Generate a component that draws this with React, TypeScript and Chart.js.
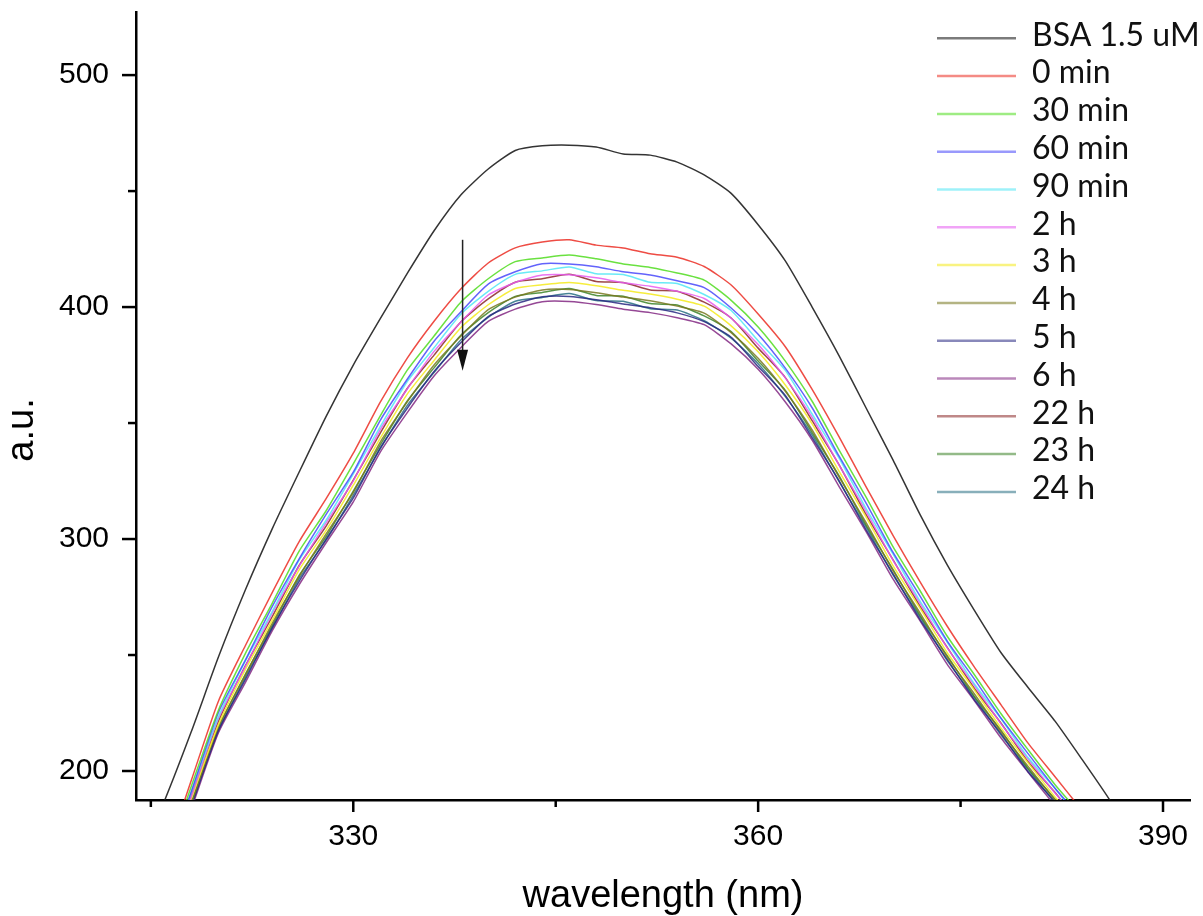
import React, { useEffect, useRef } from 'react';
import { Chart, registerables } from 'chart.js';

Chart.register(...registerables);

// ---- data ----
const wavelengths = [314, 316, 318, 320, 322, 324, 326, 328, 330, 332, 334, 336, 338, 340, 342, 344, 346, 348, 350, 352, 354, 356, 358, 360, 362, 364, 366, 368, 370, 372, 374, 376, 378, 380, 382, 384, 386, 388, 390, 392];

const bsa = [160, 187, 217, 249, 278, 304.5, 329, 353, 375, 395, 414.5, 433, 448.5, 459.5, 467.5, 469.5, 469.8, 469, 466, 465.5, 462.5, 457, 449, 435.5, 420, 400, 379, 356.5, 334, 310.5, 289, 269.5, 251, 236, 221.5, 205, 188, 170, 152, 134];
const min0 = [136, 162, 196, 230, 254, 277, 299, 317.5, 337, 359, 378, 394, 408, 419, 425.5, 428, 429, 426.7, 425.5, 423, 421.5, 417.5, 409.5, 397, 383, 364.5, 344, 322.5, 301.5, 281.5, 262.5, 245, 228.5, 212, 197.5, 183, 168, 154, 140, 126];
const min30 = [134, 159.8, 193.4, 226.1, 250.6, 272.4, 294.9, 312.3, 332.4, 353.1, 372.8, 387.6, 402.3, 412.2, 419.6, 421.2, 422.4, 420.8, 418.6, 417.1, 414.7, 411.6, 402.9, 391.4, 376.8, 359.4, 338.3, 318.1, 296.6, 277.7, 258.2, 241.7, 224.7, 209.2, 194.1, 180.6, 165.2, 151.9, 137.6, 124.3];
const min60 = [132.6, 158.7, 191.2, 225.1, 247.8, 271.0, 291.6, 310.7, 328.8, 351.2, 368.9, 385.4, 398.1, 409.9, 415.2, 418.7, 418.6, 417.4, 415.2, 413.8, 411.3, 408.4, 399.6, 388.3, 373.8, 356.6, 335.7, 315.5, 294.2, 275.4, 256.1, 239.8, 222.8, 207.5, 192.6, 179.1, 163.8, 150.8, 136.5, 123.4];
const min90 = [132.5, 157.2, 190.9, 223.2, 247.3, 268.8, 291.0, 308.2, 328.1, 348.5, 367.9, 382.6, 397.1, 406.8, 414.1, 415.6, 417.3, 414.4, 414.0, 410.7, 410.2, 405.4, 398.5, 385.5, 372.8, 353.9, 334.9, 313.1, 293.5, 273.2, 255.6, 237.7, 222.5, 205.8, 192.4, 177.6, 163.6, 149.4, 136.3, 122.2];
const h2 = [131.1, 156.8, 189.0, 222.6, 245.0, 268.0, 288.4, 307.1, 325.1, 347.2, 364.7, 381.0, 393.7, 405.2, 410.6, 413.8, 413.9, 412.6, 410.5, 409.0, 406.8, 403.7, 395.2, 383.9, 369.6, 352.5, 331.9, 311.9, 290.8, 272.3, 253.2, 237.1, 220.3, 205.2, 190.5, 177.1, 162.0, 149.1, 134.9, 121.9];
const h3 = [130.6, 154.9, 188.1, 219.9, 243.7, 265.0, 286.8, 303.8, 323.2, 343.5, 362.5, 377.1, 391.3, 401.0, 408.0, 409.6, 410.6, 409.2, 407.2, 405.6, 403.4, 400.4, 391.9, 380.7, 366.5, 349.6, 329.2, 309.4, 288.4, 270.1, 251.1, 235.1, 218.5, 203.5, 188.8, 175.6, 160.6, 147.8, 133.8, 121.0];
const h4 = [129.0, 154.4, 186.1, 219.0, 241.2, 263.8, 283.9, 302.3, 320.1, 341.8, 359.1, 375.1, 387.6, 398.9, 404.3, 407.4, 407.6, 406.2, 404.3, 402.7, 400.4, 397.4, 389.0, 377.9, 363.8, 347.0, 326.7, 307.1, 286.3, 268.1, 249.2, 233.4, 216.9, 202.0, 187.4, 174.3, 159.5, 146.8, 132.8, 120.1];
const h5 = [128.1, 153.2, 184.7, 217.5, 239.4, 261.9, 281.9, 300.1, 317.7, 339.3, 356.4, 372.3, 384.8, 395.9, 401.3, 404.4, 404.6, 403.2, 401.3, 399.7, 397.5, 393.7, 387.0, 374.4, 362.0, 343.7, 325.1, 304.0, 285.0, 265.3, 248.2, 230.9, 216.1, 199.7, 186.8, 172.5, 158.9, 145.1, 132.5, 118.6];
const h6 = [127.4, 152.4, 183.7, 216.4, 238.1, 260.5, 280.4, 298.5, 316.0, 337.5, 354.5, 370.4, 382.7, 393.8, 399.1, 402.3, 402.4, 401.1, 399.1, 397.6, 395.4, 392.4, 384.1, 373.2, 359.2, 342.7, 322.6, 303.2, 282.7, 264.7, 246.1, 230.5, 214.2, 199.5, 185.1, 172.1, 157.5, 144.9, 131.2, 118.6];
const h22 = [131.4, 155.9, 189.3, 221.3, 245.3, 266.6, 288.7, 305.7, 325.4, 345.7, 364.9, 379.4, 393.8, 403.5, 410.7, 412.2, 414.1, 411.0, 410.6, 407.4, 406.8, 402.1, 395.3, 382.3, 369.7, 351.0, 332.0, 310.5, 291.0, 271.0, 253.4, 235.8, 220.6, 204.0, 190.7, 176.1, 162.3, 148.2, 135.3, 121.2];
const h23 = [129.5, 153.6, 186.5, 218.2, 241.7, 262.8, 284.4, 301.2, 320.6, 340.6, 359.5, 373.9, 388.1, 397.6, 404.6, 406.3, 408.0, 405.0, 404.7, 401.5, 400.9, 396.2, 389.4, 376.7, 364.2, 345.9, 327.2, 306.0, 286.8, 267.0, 249.8, 232.3, 217.5, 201.1, 187.9, 173.5, 159.9, 146.0, 133.3, 119.5];
const h24 = [128.8, 152.8, 185.5, 216.9, 240.4, 261.4, 283.0, 299.6, 318.9, 338.9, 357.6, 371.9, 386.0, 395.6, 402.5, 404.1, 405.8, 402.8, 402.5, 399.3, 398.7, 394.1, 386.6, 375.6, 361.5, 344.9, 324.7, 305.2, 284.5, 266.4, 247.7, 231.9, 215.5, 200.7, 186.2, 173.3, 158.5, 145.9, 132.0, 119.4];

const seriesLabels = ['BSA 1.5 uM', '0 min', '30 min', '60 min', '90 min', '2 h', '3 h', '4 h', '5 h', '6 h', '22 h', '23 h', '24 h'];
const seriesColors = [
  'rgba(30,30,30,0.9)',
  'rgba(235,45,35,0.85)',
  'rgba(80,220,30,0.85)',
  'rgba(60,60,250,0.8)',
  'rgba(80,230,245,0.85)',
  'rgba(230,90,240,0.85)',
  'rgba(245,235,40,0.9)',
  'rgba(120,120,30,0.85)',
  'rgba(40,40,130,0.85)',
  'rgba(130,40,130,0.85)',
  'rgba(140,40,40,0.85)',
  'rgba(60,130,40,0.85)',
  'rgba(40,110,130,0.85)',
];

const xMajorTicks = [330, 360, 390];
const xMinorTicks = [315, 345, 375];
const yMajorTicks = [200, 300, 400, 500];
const yMinorTicks = [250, 350, 450];

const yTitle = 'a.u.';
const xTitle = 'wavelength (nm)';

const arrowX = 338.1;
const arrowFrom = 429;
const arrowTo = 372.5;

const AXIS_FONT = "'Liberation Sans', Arial, sans-serif";

export default function App() {
  const ref = useRef<HTMLCanvasElement>(null);

  useEffect(() => {
    if (!ref.current) return;
    const seriesValues = [bsa, min0, min30, min60, min90, h2, h3, h4, h5, h6, h22, h23, h24];
    const datasets = seriesLabels.map((label, i) => ({
      label,
      data: wavelengths.map((w, j) => ({ x: w, y: seriesValues[i][j] })),
      borderColor: seriesColors[i],
      backgroundColor: seriesColors[i],
      borderWidth: 1.5,
      pointRadius: 0,
      tension: 0.2,
      fill: false,
    }));

    const ticksPlugin = {
      id: 'customTicks',
      afterDraw(chart: any) {
        const { ctx, scales, chartArea } = chart;
        const x = scales.x;
        const y = scales.y;
        ctx.save();
        ctx.strokeStyle = '#000';
        ctx.lineWidth = 2.5;
        const seg = (x1: number, y1: number, x2: number, y2: number) => {
          ctx.beginPath();
          ctx.moveTo(x1, y1);
          ctx.lineTo(x2, y2);
          ctx.stroke();
        };
        xMajorTicks.forEach((v) => { const p = x.getPixelForValue(v); seg(p, chartArea.bottom, p, chartArea.bottom + 12); });
        xMinorTicks.forEach((v) => { const p = x.getPixelForValue(v); seg(p, chartArea.bottom, p, chartArea.bottom + 7); });
        yMajorTicks.forEach((v) => { const p = y.getPixelForValue(v); seg(chartArea.left, p, chartArea.left - 14, p); });
        yMinorTicks.forEach((v) => { const p = y.getPixelForValue(v); seg(chartArea.left, p, chartArea.left - 8, p); });
        // rotated y-axis title
        ctx.translate(23, 430);
        ctx.rotate(-Math.PI / 2);
        ctx.fillStyle = '#000';
        ctx.font = `38px ${AXIS_FONT}`;
        ctx.textAlign = 'center';
        ctx.textBaseline = 'middle';
        ctx.fillText(yTitle, 0, 0);
        ctx.restore();
      },
    };

    const arrowPlugin = {
      id: 'arrow',
      afterDatasetsDraw(chart: any) {
        const { ctx, scales } = chart;
        const px = scales.x.getPixelForValue(arrowX);
        const y1 = scales.y.getPixelForValue(arrowFrom);
        const y2 = scales.y.getPixelForValue(arrowTo);
        ctx.save();
        ctx.strokeStyle = '#222';
        ctx.fillStyle = '#111';
        ctx.lineWidth = 1.5;
        ctx.beginPath();
        ctx.moveTo(px, y1);
        ctx.lineTo(px, y2 - 18);
        ctx.stroke();
        ctx.beginPath();
        ctx.moveTo(px - 5.5, y2 - 21);
        ctx.lineTo(px + 5.5, y2 - 21);
        ctx.lineTo(px, y2);
        ctx.closePath();
        ctx.fill();
        ctx.restore();
      },
    };

    const legendPlugin = {
      id: 'customLegend',
      afterDraw(chart: any) {
        const { ctx } = chart;
        ctx.save();
        seriesLabels.forEach((label, i) => {
          const yy = 38.3 + 37.8 * i;
          ctx.globalAlpha = 0.65;
          ctx.strokeStyle = seriesColors[i];
          ctx.lineWidth = 2.5;
          ctx.beginPath();
          ctx.moveTo(937, yy);
          ctx.lineTo(1016, yy);
          ctx.stroke();
          ctx.globalAlpha = 1;
          ctx.fillStyle = '#111';
          ctx.font = "32px Lato, 'Open Sans', sans-serif";
          ctx.textAlign = 'left';
          ctx.textBaseline = 'middle';
          ctx.fillText(label, 1032, yy - 3);
        });
        ctx.restore();
      },
    };

    const chart = new Chart(ref.current, {
      type: 'line',
      data: { datasets },
      options: {
        responsive: false,
        animation: false,
        layout: { padding: { left: 0, right: 13, top: 12, bottom: 0 } },
        plugins: { legend: { display: false }, tooltip: { enabled: false } },
        scales: {
          x: {
            type: 'linear',
            min: 313.9,
            max: 392,
            afterBuildTicks: (s: any) => { s.ticks = xMajorTicks.map((v) => ({ value: v })); },
            afterFit: (s: any) => { s.height = 116; s.paddingLeft = 0; s.paddingRight = 0; s.paddingTop = 0; s.paddingBottom = 0; },
            grid: { display: false, drawTicks: false },
            border: { display: true, color: '#000', width: 2.5 },
            ticks: { padding: 19, color: '#000', autoSkip: false, maxRotation: 0, font: { family: AXIS_FONT, size: 30 } },
            title: { display: true, text: xTitle, color: '#000', font: { family: AXIS_FONT, size: 38, lineHeight: 1 }, padding: { top: 0, bottom: 0 } },
          },
          y: {
            type: 'linear',
            min: 187.5,
            max: 527.2,
            afterBuildTicks: (s: any) => { s.ticks = yMajorTicks.map((v) => ({ value: v })); },
            afterFit: (s: any) => { s.width = 136; s.paddingLeft = 0; s.paddingRight = 0; s.paddingTop = 0; s.paddingBottom = 0; },
            grid: { display: false, drawTicks: false },
            border: { display: true, color: '#000', width: 2.5 },
            ticks: { padding: 27, color: '#000', autoSkip: false, font: { family: AXIS_FONT, size: 30 } },
            title: { display: false },
          },
        },
      } as any,
      plugins: [ticksPlugin, arrowPlugin, legendPlugin],
    });
    return () => chart.destroy();
  }, []);

  return (
    <div style={{ position: 'absolute', left: 0, top: 0, width: 1203, height: 916, background: '#fff' }}>
      <canvas ref={ref} width={1203} height={916} style={{ display: 'block' }} />
    </div>
  );
}
